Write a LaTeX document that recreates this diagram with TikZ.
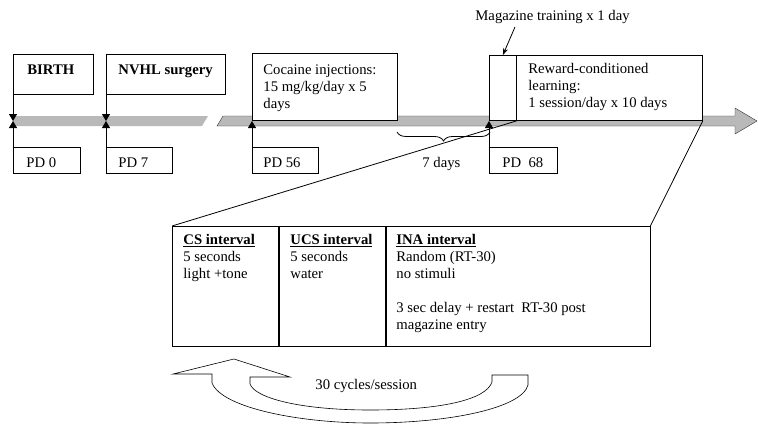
\documentclass[tikz,border=0pt]{standalone}
\usepackage{fontspec}
\setmainfont{Liberation Serif}
\usetikzlibrary{arrows.meta,positioning,decorations.pathreplacing}
\tikzset{>={Stealth[length=7pt,width=5pt]},
  box/.style={draw,line width=0.8pt,fill=white,inner sep=0,anchor=north west},
  txt/.style={inner sep=0,anchor=north west,align=left,
    font=\fontsize{14.7}{17}\selectfont,
    execute at begin node={\rule{0pt}{11pt}}},
  tri/.style={-{Triangle[length=7pt,width=8pt]}}}

\begin{document}
\begin{tikzpicture}[x=1pt,y=-1pt,line width=0.8pt]
\useasboundingbox (0,0) rectangle (758,426);

  % time line
  \fill [gray!55] (13,116) -- (208,116) -- (202,126) -- (13,126) -- cycle;
  \draw [thin, draw=gray!40!black, fill=gray!55] (217,126) -- (223,116)
    -- (735,116) -- (735,108) -- (757,121) -- (735,134) -- (735,126) -- cycle;

  \coordinate (b0) at (13,121);
  \coordinate (b7) at (106,121);
  \coordinate (b56) at (252,121);
  \coordinate (b68) at (489,121);

  \node [box, minimum width=80, minimum height=40] (birth) at (13,54) {};
  \node [box, minimum width=119, minimum height=40] (nvhl) at (106,54) {};
  \node [box, minimum width=145, minimum height=67] (coc) at (252,53) {};
  \node [box, minimum width=27, minimum height=65] (mag) at (489,55) {};
  \node [box, minimum width=186, minimum height=65] (rew) at (516,55) {};

  \node [box, minimum width=67, minimum height=26] (pd0) at (13,147) {};
  \node [box, minimum width=66, minimum height=26] (pd7) at (106,147) {};
  \node [box, minimum width=66, minimum height=26] (pd56) at (252,147) {};
  \node [box, minimum width=68, minimum height=26] (pd68) at (489,147) {};

  \node [txt] (birthtext) at (27,63) {\textbf{BIRTH}};
  \node [txt] (nvhltext) at (118,63) {\textbf{NVHL surgery}};
  \node [txt] (coctext) at (263,64) {Cocaine injections:\\15 mg/kg/day x 5\\days};
  \node [txt] (rewtext) at (528,63) {Reward-conditioned\\learning:\\1 session/day x 10 days};

  \node [txt] (pd0text) at (26,156) {PD 0};
  \node [txt] (pd7text) at (118,156) {PD 7};
  \node [txt] (pd56text) at (263,156) {PD 56};
  \node [txt] (pd68text) at (502,156) {PD\ \ 68};

  \draw [tri] (birth.south west) -- (b0);
  \draw [tri] (pd0.north west) -- (b0);
  \draw [tri] (nvhl.south west) -- (b7);
  \draw [tri] (pd7.north west) -- (b7);
  \draw [tri] (pd56.north west) -- (b56);
  \draw [tri] (pd68.north west) -- (b68);

  \node [txt] (maglabel) at (475,9) {Magazine training x 1 day};
  \draw [->] ([xshift=40,yshift=-3]maglabel.south west) -- (mag.north);

  \draw [decorate, decoration={brace, mirror, amplitude=9pt}] (397,132) -- (490,132);
  \node [txt] (seven) at (422,156) {7 days};

  % intervals
  \node [box, minimum width=106, minimum height=120] (cs) at (172,226) {};
  \node [box, minimum width=106, minimum height=120, right=0pt of cs] (ucs) {};
  \node [box, minimum width=264, minimum height=120, right=0pt of ucs] (ina) {};

  \draw (cs.north west) -- (mag.south east);
  \draw (ina.north east) -- (rew.south east);

  \node [txt] (cstext) at (183,234) {\underline{\textbf{CS interval}}\\5 seconds\\light +tone};
  \node [txt] (ucstext) at (290,234) {\underline{\textbf{UCS interval}}\\5 seconds\\water};
  \node [txt] (inatext) at (396,234) {\underline{\textbf{INA interval}}\\Random (RT-30)\\no stimuli\\[17pt]3 sec delay + restart\ \ RT-30 post\\magazine entry};

  % cycle arrow
  \draw [line width=0.6pt] (212,374) -- (212,383) .. controls (222,408) and (300,423) .. (370,423)
    .. controls (450,423) and (522,408) .. (528,385) -- (528,375) -- (492,375) -- (492,382)
    .. controls (486,400) and (440,410) .. (370,410) .. controls (300,410) and (255,398) .. (250,384)
    -- (250,377) -- (290,377) -- (234,359) -- (173,374) -- cycle;
  \node [txt] (cycles) at (315,378) {30 cycles/session};

\end{tikzpicture}
\end{document}
